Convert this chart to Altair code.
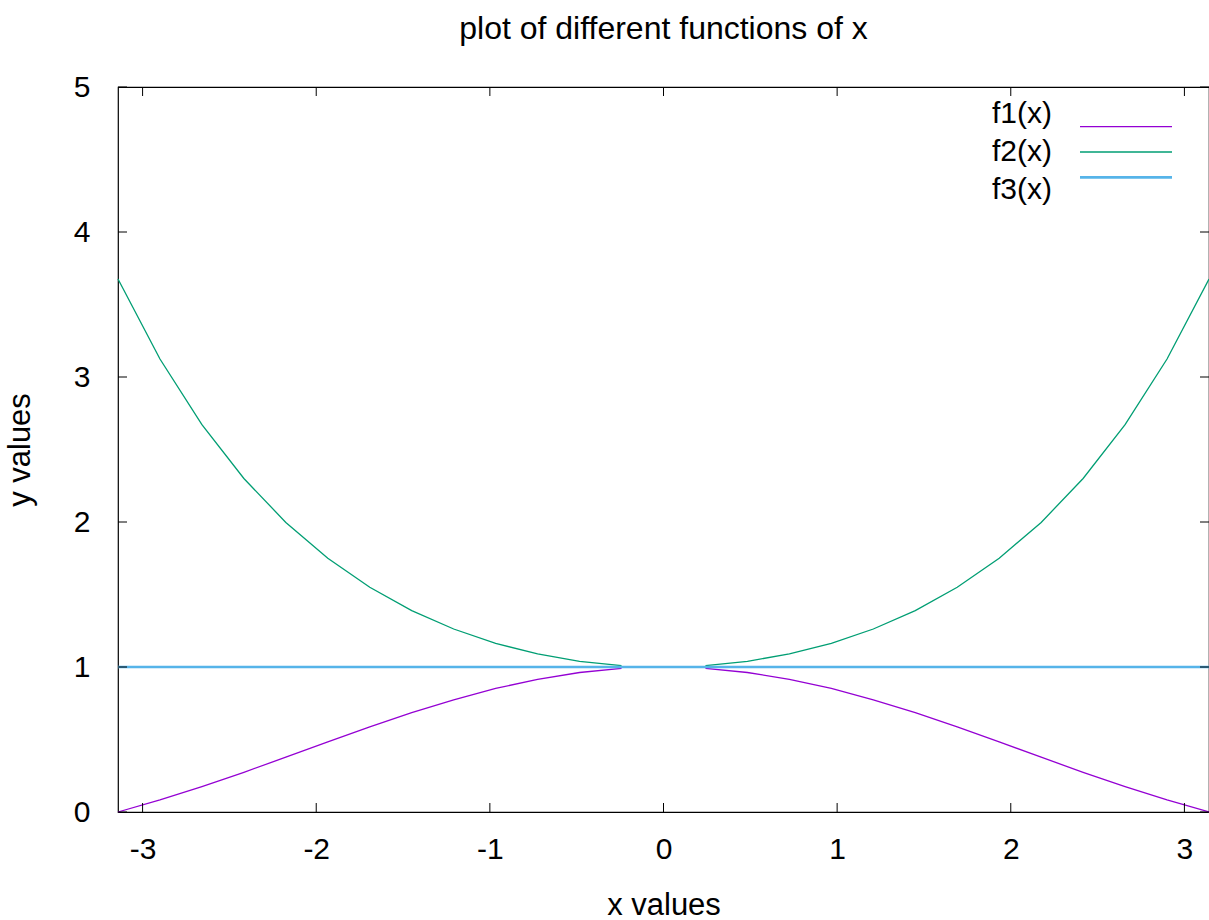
import altair as alt
import pandas as pd

# sample positions (x): 27 samples across [-pi, pi]
x_vals = [-3.1416, -2.8999, -2.6583, -2.4166, -2.1750, -1.9333, -1.6916, -1.4500,
          -1.2083, -0.9666, -0.7250, -0.4833, -0.2417, 0.0,
          0.2417, 0.4833, 0.7250, 0.9666, 1.2083, 1.4500, 1.6916, 1.9333,
          2.1750, 2.4166, 2.6583, 2.8999, 3.1416]
# f1 and f2 are undefined at x = 0 (gap in the curves)
f1_vals = [0.0, 0.083, 0.175, 0.274, 0.378, 0.484, 0.587, 0.685,
           0.774, 0.852, 0.915, 0.962, 0.990, None,
           0.990, 0.962, 0.915, 0.852, 0.774, 0.685, 0.587, 0.484,
           0.378, 0.274, 0.175, 0.083, 0.0]
f2_vals = [3.676, 3.124, 2.671, 2.300, 1.997, 1.750, 1.550, 1.389,
           1.262, 1.163, 1.090, 1.039, 1.010, None,
           1.010, 1.039, 1.090, 1.163, 1.262, 1.389, 1.550, 1.750,
           1.997, 2.300, 2.671, 3.124, 3.676]
f3_vals = [1.0] * len(x_vals)

series_names = ["f1(x)", "f2(x)", "f3(x)"]
series_colors = ["#9400d3", "#009e73", "#56b4e9"]

x_ticks = [-3, -2, -1, 0, 1, 2, 3]
y_ticks = [0, 1, 2, 3, 4, 5]

rows = []
for name, vals in zip(series_names, [f1_vals, f2_vals, f3_vals]):
    for xv, yv in zip(x_vals, vals):
        rows.append({"x": xv, "y": yv, "series": name})
df = pd.DataFrame(rows)
leg_df = pd.DataFrame({"series": series_names})

W, H = 1091, 725
FONT = "Liberation Sans"
FS = 30      # tick labels / legend
TFS = 31     # axis titles
TICK = 9

xscale = alt.Scale(domain=[-3.1416, 3.1416], nice=False, zero=False)
yscale = alt.Scale(domain=[0, 5], nice=False)
cscale = alt.Scale(domain=series_names, range=series_colors)
width_enc = alt.condition(alt.datum.series == "f3(x)", alt.value(2.6), alt.value(1.3))

lines = alt.Chart(df).mark_line(invalid="break-paths-show-domains").encode(
    x=alt.X("x:Q", scale=xscale,
            axis=alt.Axis(values=x_ticks, title="x values", grid=False, ticks=False,
                          domain=False, labelExpr="'' + datum.value", labelFont=FONT,
                          labelFontSize=FS, labelColor="#000", labelPadding=22,
                          titleFont=FONT, titleFontSize=TFS, titleFontWeight="normal",
                          titleColor="#000", titlePadding=26, labelFlush=False)),
    y=alt.Y("y:Q", scale=yscale,
            axis=alt.Axis(values=y_ticks, title="y values", grid=False, ticks=False,
                          domain=False, labelExpr="'' + datum.value", labelFont=FONT,
                          labelFontSize=FS, labelColor="#000", labelPadding=28,
                          titleFont=FONT, titleFontSize=TFS, titleFontWeight="normal",
                          titleColor="#000", titlePadding=37, labelFlush=False)),
    color=alt.Color("series:N", scale=cscale, legend=None),
    strokeWidth=width_enc,
    order=alt.Order("x:Q"),
)

xt = pd.DataFrame({"t": x_ticks})
yt = pd.DataFrame({"t": y_ticks})

tick_style = dict(color="#000", strokeWidth=1)
bottom_ticks = alt.Chart(xt).mark_rule(**tick_style).encode(
    x=alt.X("t:Q", scale=xscale), y=alt.value(H), y2=alt.value(H - TICK))
top_ticks = alt.Chart(xt).mark_rule(**tick_style).encode(
    x=alt.X("t:Q", scale=xscale), y=alt.value(0), y2=alt.value(TICK))
left_ticks = alt.Chart(yt).mark_rule(**tick_style).encode(
    y=alt.Y("t:Q", scale=yscale, axis=None), x=alt.value(0), x2=alt.value(TICK))
right_ticks = alt.Chart(yt).mark_rule(**tick_style).encode(
    y=alt.Y("t:Q", scale=yscale, axis=None), x=alt.value(W), x2=alt.value(W - TICK))

# legend drawn inside the plot, gnuplot style: label on the left, line sample on the right
leg_y = alt.Y("series:N", scale=alt.Scale(domain=series_names, range=[27, 103], padding=0),
              axis=None)
leg_text = alt.Chart(leg_df).mark_text(align="right", baseline="middle", font=FONT,
                                       fontSize=FS, color="#000").encode(
    y=leg_y, x=alt.value(934), text="series:N")
leg_line = alt.Chart(leg_df).mark_rule().encode(
    y=leg_y, x=alt.value(962), x2=alt.value(1054),
    color=alt.Color("series:N", scale=cscale, legend=None),
    strokeWidth=width_enc,
)

chart = alt.layer(lines, bottom_ticks, top_ticks, left_ticks, right_ticks,
                  leg_text, leg_line).resolve_scale(y="independent").properties(
    width=W, height=H,
    title=alt.TitleParams("plot of different functions of x", font=FONT, fontSize=32,
                          fontWeight="normal", color="#000", anchor="middle", offset=26),
    autosize=alt.AutoSizeParams(type="none"),
    padding={"left": 118, "top": 87, "right": 0, "bottom": 108},
).configure(background="white").configure_view(stroke="#000", strokeWidth=1.2)

chart.save("out.html", embed_options={"renderer": "svg", "actions": False})
